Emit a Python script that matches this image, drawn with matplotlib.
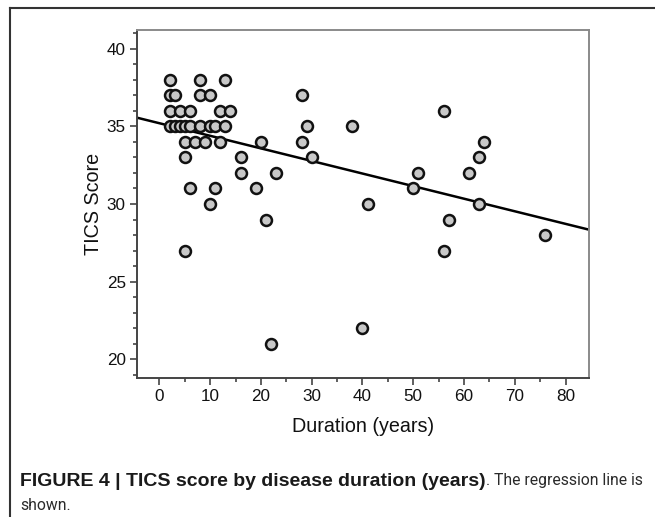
import numpy as np
import matplotlib
matplotlib.use("Agg")
from matplotlib import pyplot as plt
from matplotlib.ticker import MultipleLocator
from matplotlib.lines import Line2D

# duration (years) and TICS score for each patient
duration = [2, 8, 13,
            2, 3, 8, 10, 28,
            2, 4, 6, 12, 14,
            2, 3, 4, 5, 6, 8, 10, 11, 13, 29, 38,
            5, 7, 9, 12, 20, 28,
            5, 16, 30,
            16, 23,
            6, 11, 19,
            10, 21, 5, 22,
            56, 64, 63, 51, 61, 50, 41, 63, 57, 76, 56, 40]
tics = [38, 38, 38,
        37, 37, 37, 37, 37,
        36, 36, 36, 36, 36,
        35, 35, 35, 35, 35, 35, 35, 35, 35, 35, 35,
        34, 34, 34, 34, 34, 34,
        33, 33, 33,
        32, 32,
        31, 31, 31,
        30, 29, 27, 21,
        36, 34, 33, 32, 32, 31, 30, 30, 29, 28, 27, 22]

# regression line as drawn in the figure
intercept = 35.2
slope = -0.081

xlim = (-4.4, 84.6)
ylim = (18.8, 41.2)

caption_bold = 'FIGURE 4 | TICS score by disease duration (years)'
caption_rest = '. The regression line is'
caption_line2 = 'shown.'

plt.rcParams['font.family'] = ['Liberation Sans', 'DejaVu Sans']

fig = plt.figure(figsize=(6.55, 5.17), dpi=100, facecolor='w')
ax = fig.add_axes([137/655, 1 - 378/517, (589 - 137)/655, (378 - 30)/517])

ax.scatter(duration, tics, s=62, c='#c8c8c8', edgecolors='#111111',
           linewidths=1.8, zorder=3)

xs = np.array(xlim)
ax.plot(xs, intercept + slope * xs, color='k', lw=1.8, zorder=2)

ax.set_xlim(*xlim)
ax.set_ylim(*ylim)
ax.xaxis.set_major_locator(MultipleLocator(10))
ax.xaxis.set_minor_locator(MultipleLocator(5))
ax.yaxis.set_major_locator(MultipleLocator(5))
ax.yaxis.set_minor_locator(MultipleLocator(1))
ax.tick_params(which='both', direction='out', color='#444444', width=1.2,
               labelsize=12.3, labelcolor='#111111')
ax.tick_params(which='major', length=5, pad=3)
ax.tick_params(which='minor', length=3)

for side in ['left', 'bottom']:
    ax.spines[side].set_color('#444444')
    ax.spines[side].set_linewidth(1.4)
for side in ['top', 'right']:
    ax.spines[side].set_color('#8a8a8a')
    ax.spines[side].set_linewidth(1.4)

ax.set_xlabel('Duration (years)', fontsize=14.2, labelpad=9, color='#111111')
ax.set_ylabel('TICS Score', fontsize=14.2, labelpad=3, color='#111111')

# outer frame (top and left only, cut at the edges)
fig.add_artist(Line2D([10/655, 1], [1 - 8/517, 1 - 8/517],
                      transform=fig.transFigure, color='#333333', lw=1.5))
fig.add_artist(Line2D([10/655, 10/655], [0, 1 - 8/517],
                      transform=fig.transFigure, color='#333333', lw=1.5))


def fit_text(x0, y, s, width_px, **kw):
    # put text at x0 and shrink the size so it spans width_px
    t = fig.text(x0 / 655, 1 - y / 517, s, fontsize=14, va='center', **kw)
    fig.canvas.draw()
    w = t.get_window_extent().width
    t.set_fontsize(14 * width_px / w)
    fig.canvas.draw()
    return t


cap_rest_font = ['Roboto', 'Liberation Sans']
t1 = fit_text(20, 481, caption_bold, 467, fontweight='bold', color='#1a1a1a')
x_after = t1.get_window_extent().x1
t2 = fit_text(x_after, 481, caption_rest, 643 - x_after,
              family=cap_rest_font, color='#2a2a2a')
fig.text(20 / 655, 1 - 506 / 517, caption_line2, fontsize=t2.get_fontsize(),
         va='center', family=cap_rest_font, color='#2a2a2a')

fig.savefig('out.png', dpi=100)
